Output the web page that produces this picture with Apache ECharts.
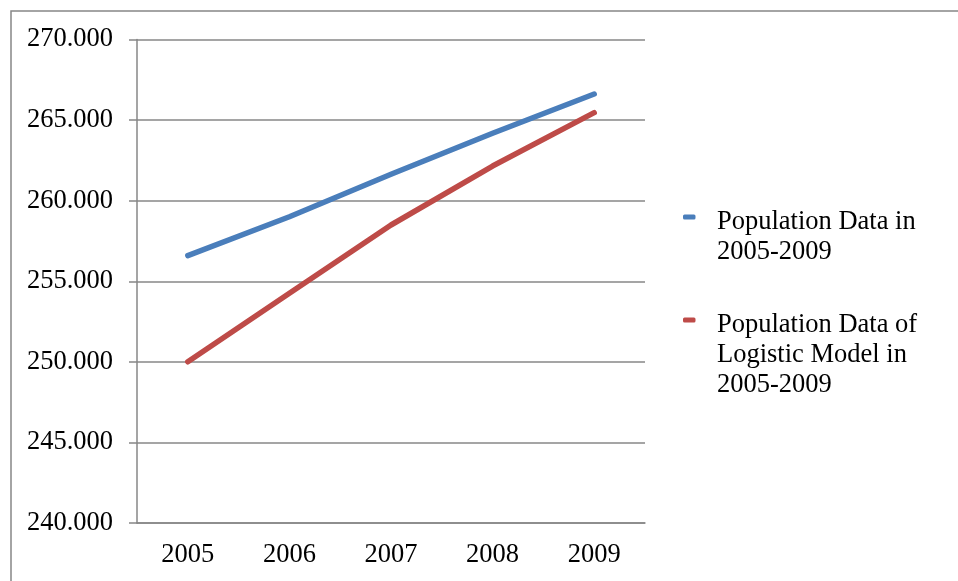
<!DOCTYPE html>
<html>
<head>
<meta charset="UTF-8">
<script src="https://cdn.jsdelivr.net/npm/echarts@6/dist/echarts.min.js"></script>
<style>
  html, body { margin: 0; padding: 0; background: #fff; }
  #main { width: 958px; height: 581px; }
</style>
</head>
<body>
<div id="main"></div>
<script>
// data
var years = ['2005', '2006', '2007', '2008', '2009'];
var actualPop = [256.59, 259.0, 261.64, 264.18, 266.62];
var logisticPop = [250.0, 254.26, 258.49, 262.15, 265.46];
var nameActual = 'Population Data in\n2005-2009';
var nameLogistic = 'Population Data of\nLogistic Model in\n2005-2009';
var blue = '#4A7EBB', red = '#BE4B48';

var chart = echarts.init(document.getElementById('main'));
var grey = '#878787';
var font = '"Liberation Serif", "Times New Roman", serif';

// legend drawn by hand so the marker sits on the first text line
function legendItem(name, color, y) {
  return [{
    type: 'rect',
    shape: { x: 683, y: y - 2.5, width: 12.5, height: 5, r: 1.5 },
    style: { fill: color }
  }, {
    type: 'text',
    x: 717, y: y - 10,
    style: {
      text: name, fill: '#000', font: '26.5px ' + font,
      lineHeight: 30, verticalAlign: 'top', align: 'left'
    }
  }];
}

var option = {
  animation: false,
  textStyle: { fontFamily: font },
  graphic: [{
    type: 'rect',
    shape: { x: 11, y: 11, width: 1000, height: 1000 },
    style: { fill: 'none', stroke: grey, lineWidth: 1.5 }
  }].concat(legendItem(nameActual, blue, 217), legendItem(nameLogistic, red, 320)),
  grid: { left: 137, right: 313, top: 39.5, bottom: 58 },
  xAxis: {
    type: 'category',
    data: years,
    axisLine: { lineStyle: { color: grey, width: 1.5 } },
    axisTick: { length: 8, lineStyle: { color: grey, width: 1.5 } },
    axisLabel: { color: '#000', fontFamily: font, fontSize: 26.5, margin: 19 }
  },
  yAxis: {
    type: 'value',
    min: 240, max: 270, interval: 5,
    axisLine: { show: true, lineStyle: { color: grey, width: 1.5 } },
    axisTick: { show: true, length: 8, lineStyle: { color: grey, width: 1.5 } },
    splitLine: { lineStyle: { color: grey, width: 1.5 } },
    axisLabel: {
      color: '#000', fontFamily: font, fontSize: 26.5, margin: 24,
      formatter: function (v) { return v.toFixed(3); }
    }
  },
  series: [{
    name: nameActual,
    type: 'line',
    data: actualPop,
    symbol: 'none',
    color: blue,
    lineStyle: { width: 5.5, cap: 'round', join: 'round' }
  }, {
    name: nameLogistic,
    type: 'line',
    data: logisticPop,
    symbol: 'none',
    color: red,
    lineStyle: { width: 5.5, cap: 'round', join: 'round' }
  }]
};

chart.setOption(option);
</script>
</body>
</html>
